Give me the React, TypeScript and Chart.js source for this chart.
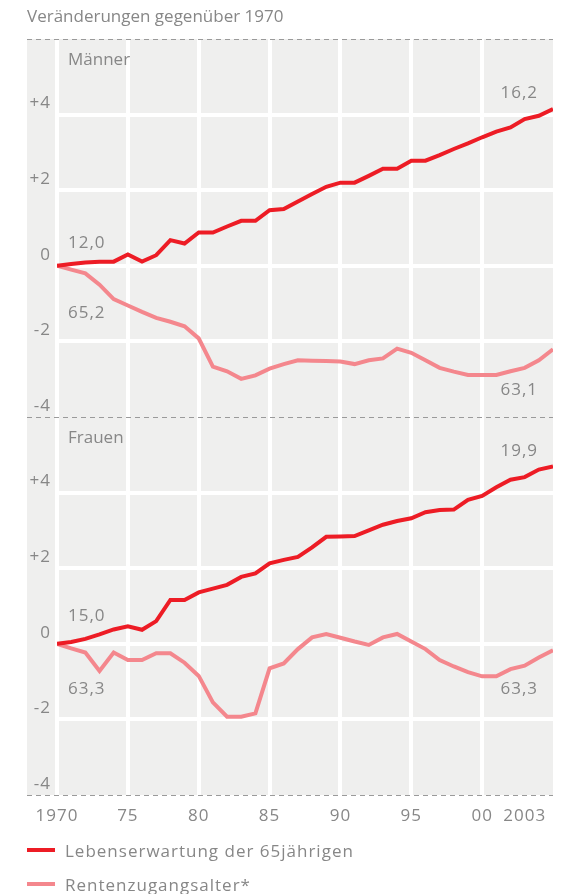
import React, { useEffect, useRef } from 'react';
import { Chart, registerables } from 'chart.js';

Chart.register(...registerables);

const TITLE = 'Veränderungen gegenüber 1970';
const PANEL_TITLES = ['Männer', 'Frauen'];
const LEGEND_LABELS = ['Lebenserwartung der 65jährigen', 'Rentenzugangsalter*'];

const YEARS = [
  1970, 1971, 1972, 1973, 1974, 1975, 1976, 1977, 1978, 1979,
  1980, 1981, 1982, 1983, 1984, 1985, 1986, 1987, 1988, 1989,
  1990, 1991, 1992, 1993, 1994, 1995, 1996, 1997, 1998, 1999,
  2000, 2001, 2002, 2003, 2004, 2005,
];

// Männer
const MEN_LIFE = [
  0, 0.05, 0.09, 0.11, 0.11, 0.3, 0.11, 0.28, 0.68, 0.59,
  0.88, 0.88, 1.04, 1.19, 1.19, 1.47, 1.5, 1.7, 1.9, 2.09,
  2.2, 2.2, 2.38, 2.57, 2.57, 2.78, 2.78, 2.93, 3.09, 3.24,
  3.4, 3.55, 3.66, 3.88, 3.97, 4.15,
];
const MEN_RETIRE = [
  0, -0.1, -0.2, -0.5, -0.88, -1.05, -1.22, -1.38, -1.48, -1.6,
  -1.92, -2.67, -2.79, -2.99, -2.9, -2.72, -2.6, -2.5, -2.51, -2.52,
  -2.53, -2.6, -2.5, -2.45, -2.19, -2.3, -2.5, -2.7, -2.8, -2.89,
  -2.89, -2.89, -2.79, -2.7, -2.5, -2.21,
];

// Frauen
const WOMEN_LIFE = [
  0, 0.05, 0.13, 0.25, 0.38, 0.46, 0.37, 0.6, 1.16, 1.16,
  1.36, 1.46, 1.56, 1.77, 1.86, 2.13, 2.22, 2.3, 2.55, 2.83,
  2.84, 2.85, 3.0, 3.15, 3.25, 3.32, 3.48, 3.54, 3.55, 3.81,
  3.91, 4.14, 4.34, 4.41, 4.61, 4.69,
];
const WOMEN_RETIRE = [
  0, -0.12, -0.23, -0.72, -0.23, -0.43, -0.43, -0.25, -0.25, -0.5,
  -0.85, -1.55, -1.93, -1.93, -1.84, -0.65, -0.52, -0.14, 0.17, 0.26,
  0.16, 0.06, -0.03, 0.17, 0.26, 0.06, -0.14, -0.43, -0.6, -0.75,
  -0.86, -0.86, -0.67, -0.58, -0.36, -0.17,
];

const MEN_START_LABELS = ['12,0', '65,2'];
const MEN_END_LABELS = ['16,2', '63,1'];
const WOMEN_START_LABELS = ['15,0', '63,3'];
const WOMEN_END_LABELS = ['19,9', '63,3'];

const X_TICKS = [1970, 1975, 1980, 1985, 1990, 1995, 2000, 2003];
const X_TICK_LABELS = ['1970', '75', '80', '85', '90', '95', '00', '2003'];
const Y_TICKS = [-4, -2, 0, 2, 4, 6];

const FONT = '"Open Sans", sans-serif';
const FONT_SIZE = 17;
const TEXT_COLOR = '#878787';
const RED = '#ed1c25';
const PINK = '#f4878d';
const BG = '#efefee';
const DASH_COLOR = '#9a9a9a';

export default function App() {
  const ref = useRef<HTMLCanvasElement>(null);

  useEffect(() => {
    const canvas = ref.current;
    if (!canvas) return;

    const pts = (vals: number[]) => YEARS.map((x, i) => ({ x, y: vals[i] }));
    const yLabel = (v: number) => (v === 6 ? '' : v > 0 ? '+' + v : String(v));

    const yScale = () => ({
      type: 'linear',
      position: 'left',
      stack: 'panels',
      stackWeight: 1,
      min: -4,
      max: 6,
      afterBuildTicks: (s: any) => {
        s.ticks = Y_TICKS.map((v) => ({ value: v }));
      },
      afterFit: (s: any) => {
        s.width = 57;
      },
      grid: {
        color: (c: any) =>
          c.tick && (c.tick.value === -4 || c.tick.value === 6) ? 'rgba(0,0,0,0)' : '#ffffff',
        lineWidth: 4,
        drawTicks: false,
      },
      border: { display: false },
      ticks: {
        callback: (v: any) => yLabel(Number(v)),
        font: { family: FONT, size: FONT_SIZE },
        color: TEXT_COLOR,
        padding: 6,
        labelOffset: -11,
      },
    });

    const deco = {
      id: 'deco',
      beforeDraw(chart: any) {
        const { ctx, chartArea: a } = chart;
        (ctx as any).letterSpacing = '1px';
        ctx.save();
        ctx.fillStyle = BG;
        ctx.fillRect(27, a.top, a.right - 27, a.bottom - a.top);
        ctx.restore();
      },
      beforeDatasetsDraw(chart: any) {
        const { ctx, chartArea: a, scales } = chart;
        const ys = [
          scales.yM.getPixelForValue(6),
          scales.yM.getPixelForValue(-4),
          scales.yF.getPixelForValue(-4),
        ];
        ctx.save();
        ctx.strokeStyle = DASH_COLOR;
        ctx.lineWidth = 1;
        ctx.setLineDash([5, 4]);
        for (const y of ys) {
          const yy = Math.round(y) + 0.5;
          ctx.beginPath();
          ctx.moveTo(27, yy);
          ctx.lineTo(a.right, yy);
          ctx.stroke();
        }
        ctx.restore();
      },
      afterDraw(chart: any) {
        const { ctx, chartArea: a, scales } = chart;
        const yM = scales.yM;
        const yF = scales.yF;
        ctx.save();
        ctx.font = `${FONT_SIZE}px ${FONT}`;
        ctx.fillStyle = TEXT_COLOR;
        ctx.textBaseline = 'alphabetic';
        ctx.textAlign = 'left';
        (ctx as any).letterSpacing = '0px';
        ctx.fillText(TITLE, 27, 22);

        const lx = a.left + 11;
        const rx = a.right - 15;
        ctx.fillText(PANEL_TITLES[0], lx, yM.getPixelForValue(6) + 26);
        ctx.fillText(PANEL_TITLES[1], lx, yF.getPixelForValue(6) + 26);

        (ctx as any).letterSpacing = '1px';
        ctx.fillText(MEN_START_LABELS[0], lx, yM.getPixelForValue(0.46));
        ctx.fillText(MEN_START_LABELS[1], lx, yM.getPixelForValue(-1.37));
        ctx.fillText(WOMEN_START_LABELS[0], lx, yF.getPixelForValue(0.61));
        ctx.fillText(WOMEN_START_LABELS[1], lx, yF.getPixelForValue(-1.32));
        ctx.textAlign = 'right';
        ctx.fillText(MEN_END_LABELS[0], rx, yM.getPixelForValue(4.43));
        ctx.fillText(MEN_END_LABELS[1], rx, yM.getPixelForValue(-3.43));
        ctx.fillText(WOMEN_END_LABELS[0], rx, yF.getPixelForValue(4.96));
        ctx.fillText(WOMEN_END_LABELS[1], rx, yF.getPixelForValue(-1.33));

        // legend
        const items = [
          { label: LEGEND_LABELS[0], color: RED, y: 850 },
          { label: LEGEND_LABELS[1], color: PINK, y: 884 },
        ];
        ctx.textAlign = 'left';
        for (const it of items) {
          ctx.strokeStyle = it.color;
          ctx.lineWidth = 4;
          ctx.beginPath();
          ctx.moveTo(27, it.y);
          ctx.lineTo(55, it.y);
          ctx.stroke();
          ctx.fillText(it.label, 65, it.y + 7);
        }
        ctx.restore();
      },
    };

    const lineDs = (label: string, vals: number[], color: string, axis: string, order: number) => ({
      label,
      data: pts(vals),
      yAxisID: axis,
      borderColor: color,
      backgroundColor: color,
      borderWidth: 4,
      pointRadius: 0,
      tension: 0,
      fill: false,
      order,
    });

    const chart = new Chart(canvas, {
      type: 'line',
      data: {
        datasets: [
          lineDs(LEGEND_LABELS[0] + ' Männer', MEN_LIFE, RED, 'yM', 0),
          lineDs(LEGEND_LABELS[1] + ' Männer', MEN_RETIRE, PINK, 'yM', 1),
          lineDs(LEGEND_LABELS[0] + ' Frauen', WOMEN_LIFE, RED, 'yF', 0),
          lineDs(LEGEND_LABELS[1] + ' Frauen', WOMEN_RETIRE, PINK, 'yF', 1),
        ],
      },
      options: {
        responsive: false,
        animation: false,
        devicePixelRatio: 1,
        layout: { padding: { top: 39, left: 0, right: 17, bottom: 59 } },
        plugins: { legend: { display: false }, tooltip: { enabled: false }, title: { display: false } },
        scales: {
          x: {
            type: 'linear',
            min: 1970,
            max: 2005,
            afterBuildTicks: (s: any) => {
              s.ticks = X_TICKS.map((v) => ({ value: v }));
            },
            afterFit: (s: any) => {
              s.height = 40;
            },
            grid: {
              color: (c: any) => (c.tick && c.tick.value === 2003 ? 'rgba(0,0,0,0)' : '#ffffff'),
              lineWidth: 4,
              drawTicks: false,
            },
            border: { display: false },
            ticks: {
              callback: (v: any) => {
                const i = X_TICKS.indexOf(Number(v));
                return i >= 0 ? X_TICK_LABELS[i] : '';
              },
              font: { family: FONT, size: FONT_SIZE },
              color: TEXT_COLOR,
              padding: 11,
              maxRotation: 0,
              autoSkip: false,
            },
          },
          yF: yScale(),
          yM: yScale(),
        } as any,
      },
      plugins: [deco],
    } as any);

    let alive = true;
    if ((document as any).fonts && (document as any).fonts.ready) {
      (document as any).fonts.ready.then(() => {
        if (alive) chart.update();
      });
    }

    return () => {
      alive = false;
      chart.destroy();
    };
  }, []);

  return (
    <div style={{ position: 'absolute', left: 0, top: 0, width: 570, height: 894, background: '#fff' }}>
      <canvas ref={ref} width={570} height={894} style={{ display: 'block', width: 570, height: 894 }} />
    </div>
  );
}
